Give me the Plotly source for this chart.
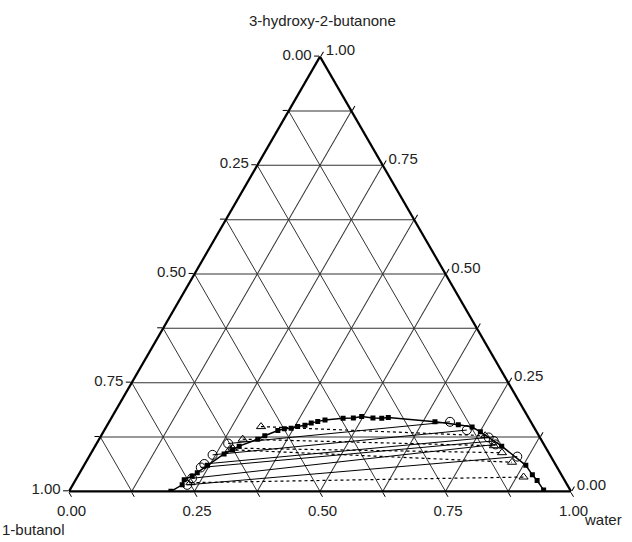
import plotly.graph_objects as go

# ---- data (mass fractions) : a = 3-hydroxy-2-butanone, c = water, b = 1-butanol (closure)
binodal_a = [0.000, 0.015, 0.027, 0.035, 0.043, 0.060, 0.086, 0.096, 0.104, 0.120, 0.128,
             0.140, 0.144, 0.145, 0.149, 0.152, 0.157, 0.161, 0.164, 0.168, 0.169, 0.172,
             0.169, 0.168, 0.170, 0.160, 0.153, 0.148, 0.137, 0.104, 0.060, 0.038, 0.025, 0.003]
binodal_c = [0.203, 0.218, 0.216, 0.228, 0.234, 0.246, 0.266, 0.278, 0.287, 0.316, 0.326,
             0.346, 0.357, 0.370, 0.381, 0.394, 0.404, 0.415, 0.428, 0.462, 0.482, 0.497,
             0.521, 0.539, 0.551, 0.649, 0.699, 0.729, 0.751, 0.810, 0.880, 0.904, 0.920, 0.944]

# experimental tie lines (solid, open circles)
exp_left_a = [0.015, 0.030, 0.055, 0.063, 0.084, 0.110]
exp_left_c = [0.228, 0.230, 0.235, 0.238, 0.244, 0.262]
exp_right_a = [0.080, 0.108, 0.116, 0.124, 0.141, 0.160]
exp_right_c = [0.853, 0.796, 0.788, 0.774, 0.722, 0.679]

# calculated tie lines (dotted, open triangles)
cal_left_a = [0.149, 0.120, 0.0995, 0.096, 0.020]
cal_left_c = [0.308, 0.286, 0.276, 0.272, 0.232]
cal_right_a = [0.128, 0.105, 0.089, 0.067, 0.033]
cal_right_c = [0.765, 0.794, 0.818, 0.849, 0.889]

tick_vals = [0, 0.125, 0.25, 0.375, 0.5, 0.625, 0.75, 0.875, 1.0]
tick_text = ["1.00", "", "0.75", "", "0.50", "", "0.25", "", "0.00"]

FONT = "Liberation Sans, Arial, sans-serif"

fig = go.Figure()

# calculated tie lines
for la, lc, ra, rc in zip(cal_left_a, cal_left_c, cal_right_a, cal_right_c):
    fig.add_trace(go.Scatterternary(
        a=[la, ra], c=[lc, rc], mode="lines+markers",
        line=dict(color="black", width=1.2, dash="dot"),
        marker=dict(symbol="triangle-up-open", size=8, color="black", line=dict(width=1)),
        hoverinfo="skip", showlegend=False))

# experimental tie lines
for la, lc, ra, rc in zip(exp_left_a, exp_left_c, exp_right_a, exp_right_c):
    fig.add_trace(go.Scatterternary(
        a=[la, ra], c=[lc, rc], mode="lines+markers",
        line=dict(color="black", width=1),
        marker=dict(symbol="circle-open", size=9, color="black", line=dict(width=1)),
        hoverinfo="skip", showlegend=False))

# binodal curve
fig.add_trace(go.Scatterternary(
    a=binodal_a, c=binodal_c, mode="lines+markers",
    line=dict(color="black", width=1.5),
    marker=dict(symbol="square", size=5, color="black"),
    hoverinfo="skip", showlegend=False))

axis_common = dict(
    tickmode="array", tickvals=tick_vals, ticktext=tick_text,
    ticks="outside", ticklen=5, tickcolor="black", tickwidth=1.2,
    showgrid=True, gridcolor="#333333", gridwidth=0.8,
    showline=True, linecolor="black", linewidth=2.2,
    tickfont=dict(family=FONT, size=15, color="#222222"),
    title=dict(text=""), min=0,
)

L, R, T, B = 69, 61, 56, 50
PW, PH = 632 - L - R, 542 - T - B


def px(x):
    return (x - L) / PW


def py(y):
    return (542 - B - y) / PH


def label(text, x, y):
    return dict(text=text, xref="paper", yref="paper", x=px(x), y=py(y),
                xanchor="center", yanchor="middle", showarrow=False,
                font=dict(family=FONT, size=15, color="#222222"))


fig.update_layout(
    width=632, height=542,
    margin=dict(l=L, r=R, t=T, b=B),
    paper_bgcolor="white",
    font=dict(family=FONT, size=15, color="#222222"),
    ternary=dict(
        sum=1,
        bgcolor="white",
        aaxis=axis_common,
        baxis=axis_common,
        caxis=axis_common,
    ),
    annotations=[
        label("3-hydroxy-2-butanone", 322, 20),
        label("1-butanol", 33, 529),
        label("water", 603, 519),
    ],
)

fig.write_html("out.html",
               config={"displayModeBar": False},
               post_script="document.body.style.margin='0';document.body.style.overflow='hidden';")
